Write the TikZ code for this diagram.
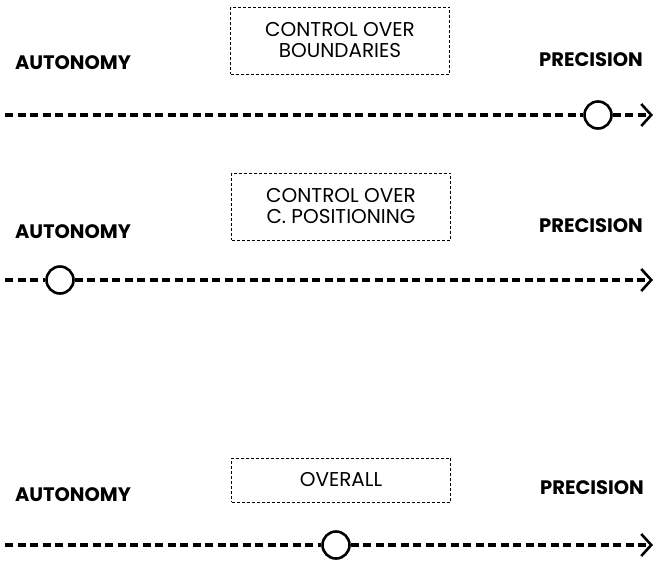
\documentclass[tikz,border=0pt]{standalone}
\usepackage{fontspec}
\setmainfont{Poppins}
\usepackage{tikz}
\usetikzlibrary{positioning, arrows.meta}

\begin{document}
\begin{tikzpicture}[
  x=1pt, y=-1pt,
  every node/.style={font=\fontsize{20}{21}\selectfont},
  endlabel/.style={font=\fontsize{19.5}{21}\selectfont\bfseries},
  aspect/.style={draw, dashed, line width=0.8pt, dash pattern=on 3pt off 2pt,
                 minimum width=219pt, align=center, inner sep=4pt},
  marker/.style={draw, circle, line width=2.6pt, minimum size=27pt, inner sep=0pt},
  axis/.style={line width=3.2pt, dash pattern=on 8pt off 4.5pt,
               -{Straight Barb[length=10pt, width=22pt, line width=2.6pt]}},
]
\useasboundingbox (0,0) rectangle (655,560);

% Boundaries
\node[aspect, minimum height=67pt] (bnd) at (340,40.5) {CONTROL OVER\\BOUNDARIES};
\node[endlabel] (aut1) at (73,63) {AUTONOMY};
\node[endlabel] (pre1) at (591,60) {PRECISION};
\coordinate (s1) at (5,115);
\coordinate (e1) at (653,115);
\node[marker] (m1) at (598,115) {};
\draw[axis] (s1) -- (m1) -- (e1);

% Positioning
\node[aspect, minimum height=67pt] (pos) at (341,206.5) {CONTROL OVER\\C. POSITIONING};
\node[endlabel] (aut2) at (73,232) {AUTONOMY};
\node[endlabel] (pre2) at (591,226) {PRECISION};
\coordinate (s2) at (5,280);
\coordinate (e2) at (653,280);
\node[marker] (m2) at (60,280) {};
\draw[axis] (s2) -- (m2) -- (e2);

% Overall
\node[aspect, minimum height=44pt] (all) at (341,480) {OVERALL};
\node[endlabel] (aut3) at (73,495) {AUTONOMY};
\node[endlabel] (pre3) at (592,488) {PRECISION};
\coordinate (s3) at (5,545);
\coordinate (e3) at (653,545);
\node[marker] (m3) at (336,545) {};
\draw[axis] (s3) -- (m3) -- (e3);

\end{tikzpicture}
\end{document}
